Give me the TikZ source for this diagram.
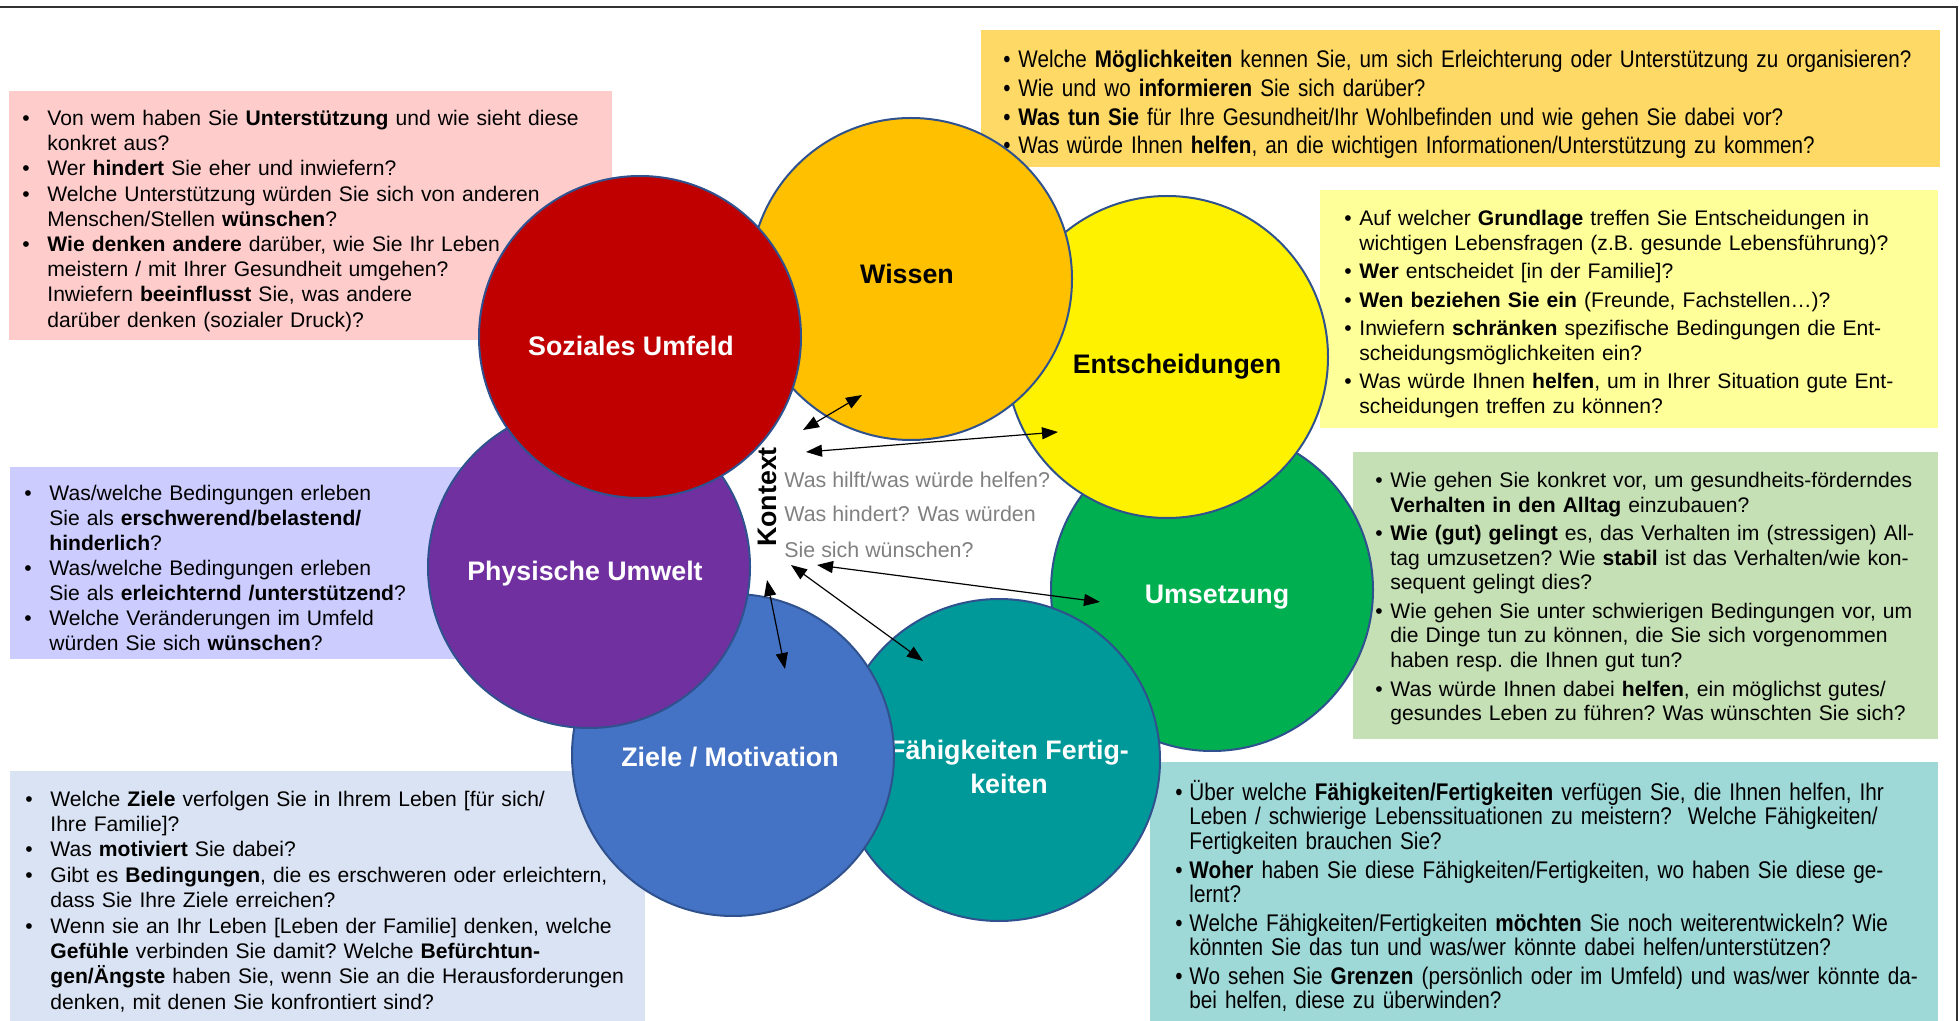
\documentclass[tikz,border=0pt]{standalone}
\usepackage{fontspec}
\setmainfont{Liberation Sans}
\newfontfamily\narrowsf[FakeStretch=0.86]{Liberation Sans}
\usepackage{tikz}
\usetikzlibrary{arrows.meta}

\definecolor{boxsoz}{HTML}{FFCCCC}
\definecolor{boxwis}{HTML}{FFD966}
\definecolor{boxent}{HTML}{FFFF99}
\definecolor{boxums}{HTML}{C5E0B4}
\definecolor{boxphy}{HTML}{CCCCFF}
\definecolor{boxzie}{HTML}{DAE3F3}
\definecolor{boxfae}{HTML}{9ED9D7}
\definecolor{csoz}{HTML}{C00000}
\definecolor{cwis}{HTML}{FFC000}
\definecolor{cent}{HTML}{FFF200}
\definecolor{cums}{HTML}{00B050}
\definecolor{cphy}{HTML}{7030A0}
\definecolor{czie}{HTML}{4472C4}
\definecolor{cfae}{HTML}{009999}
\definecolor{ringblue}{HTML}{2F528F}
\definecolor{ctxgray}{HTML}{808080}

\newlength{\bulind}
\newcommand{\qsetup}[2]{\setlength{\bulind}{#1}\setlength{\parskip}{#2}\rightskip=-20pt plus 1fil\frenchspacing}
\newcommand{\qitem}{\par\noindent\hangindent=\bulind\hangafter=1\makebox[\bulind][l]{\textbullet}}
\newcommand{\qend}[1]{\par\vspace{#1}\nointerlineskip\hbox{}}

\begin{document}
\begin{tikzpicture}[x=0.5pt,y=-0.5pt,
  qbox/.style={anchor=north west,inner ysep=0pt,align=left},
  ring/.style={circle,draw=ringblue,line width=1pt,minimum size=161pt,inner sep=0pt},
  ringtext/.style={align=center,inner sep=0pt,font=\fontsize{13.4}{17}\selectfont\bfseries},
  both/.style={{Triangle[length=8pt,width=6pt]}-{Triangle[length=8pt,width=6pt]},line width=0.6pt}]
  \useasboundingbox (0,0) rectangle (1960,1021);
  \draw[line width=1pt,black!80] (0,7) -- (1957,7) -- (1957,1021);

  \node[qbox,fill=boxsoz,minimum width=301.5pt,minimum height=124.5pt,text width=288.5pt,inner xsep=6.5pt,font=\fontsize{10.55}{12.6}\selectfont] (qsoz) at (9,91) {\qsetup{12.5pt}{0pt}%
    \qitem Von wem haben Sie \textbf{Unterstützung} und wie sieht diese\newline konkret aus?
    \qitem Wer \textbf{hindert} Sie eher und inwiefern?
    \qitem Welche Unterstützung würden Sie sich von anderen\newline Menschen/Stellen \textbf{wünschen}?
    \qitem \textbf{Wie denken andere} darüber, wie Sie Ihr Leben\newline meistern / mit Ihrer Gesundheit umgehen?\newline Inwiefern \textbf{beeinflusst} Sie, was andere\newline darüber denken (sozialer Druck)?\par};
  \node[qbox,fill=boxwis,minimum width=479.5pt,minimum height=68.5pt,text width=457.5pt,inner xsep=11pt,font=\narrowsf\fontsize{12}{14.3}\selectfont] (qwis) at (981,30) {\qsetup{7.5pt}{0pt}%
    \qitem Welche \textbf{Möglichkeiten} kennen Sie, um sich Erleichterung oder Unterstützung zu organisieren?
    \qitem Wie und wo \textbf{informieren} Sie sich darüber?
    \qitem \textbf{Was tun Sie} für Ihre Gesundheit/Ihr Wohlbefinden und wie gehen Sie dabei vor?
    \qitem Was würde Ihnen \textbf{helfen}, an die wichtigen Informationen/Unterstützung zu kommen?\par};
  \node[qbox,fill=boxent,minimum width=309pt,minimum height=119pt,text width=285pt,inner xsep=12pt,font=\fontsize{10.55}{12.3}\selectfont] (qent) at (1320,190) {\qsetup{7.5pt}{1.9pt}%
    \qitem Auf welcher \textbf{Grundlage} treffen Sie Entscheidungen in\newline wichtigen Lebensfragen (z.B. gesunde Lebensführung)?
    \qitem \textbf{Wer} entscheidet [in der Familie]?
    \qitem \textbf{Wen beziehen Sie ein} (Freunde, Fachstellen…)?
    \qitem Inwiefern \textbf{schränken} spezifische Bedingungen die Ent-\newline scheidungsmöglichkeiten ein?
    \qitem Was würde Ihnen \textbf{helfen}, um in Ihrer Situation gute Ent-\newline scheidungen treffen zu können?\qend{2pt}};
  \node[qbox,fill=boxums,minimum width=292.5pt,minimum height=143.5pt,text width=270.5pt,inner xsep=11pt,font=\fontsize{10.55}{12.2}\selectfont] (qums) at (1353,452) {\qsetup{7.5pt}{2.2pt}%
    \qitem Wie gehen Sie konkret vor, um gesundheits-förderndes\newline \textbf{Verhalten in den Alltag} einzubauen?
    \qitem \textbf{Wie (gut) gelingt} es, das Verhalten im (stressigen) All-\newline tag umzusetzen? Wie \textbf{stabil} ist das Verhalten/wie kon-\newline sequent gelingt dies?
    \qitem Wie gehen Sie unter schwierigen Bedingungen vor, um\newline die Dinge tun zu können, die Sie sich vorgenommen\newline haben resp. die Ihnen gut tun?
    \qitem Was würde Ihnen dabei \textbf{helfen}, ein möglichst gutes/\newline gesundes Leben zu führen? Was wünschten Sie sich?\qend{4pt}};
  \node[qbox,fill=boxphy,minimum width=230pt,minimum height=96pt,text width=216pt,inner xsep=7pt,font=\fontsize{10.55}{12.5}\selectfont] (qphy) at (10,467) {\qsetup{12.5pt}{0pt}%
    \qitem Was/welche Bedingungen erleben\newline Sie als \textbf{erschwerend/belastend/}\newline \textbf{hinderlich}?
    \qitem Was/welche Bedingungen erleben\newline Sie als \textbf{erleichternd /unterstützend}?
    \qitem Welche Veränderungen im Umfeld\newline würden Sie sich \textbf{wünschen}?\par};
  \node[qbox,fill=boxzie,minimum width=317.5pt,minimum height=125pt,text width=302.5pt,inner xsep=7.5pt,font=\fontsize{10.55}{12.7}\selectfont] (qzie) at (10,771) {\qsetup{12.5pt}{0pt}%
    \qitem Welche \textbf{Ziele} verfolgen Sie in Ihrem Leben [für sich/\newline Ihre Familie]?
    \qitem Was \textbf{motiviert} Sie dabei?
    \qitem Gibt es \textbf{Bedingungen}, die es erschweren oder erleichtern,\newline dass Sie Ihre Ziele erreichen?
    \qitem Wenn sie an Ihr Leben [Leben der Familie] denken, welche\newline \textbf{Gefühle} verbinden Sie damit? Welche \textbf{Befürchtun-}\newline \textbf{gen/Ängste} haben Sie, wenn Sie an die Herausforderungen\newline denken, mit denen Sie konfrontiert sind?\par};
  \node[qbox,fill=boxfae,minimum width=394pt,minimum height=129.5pt,text width=369pt,inner xsep=12.5pt,font=\narrowsf\fontsize{12.05}{12.2}\selectfont] (qfae) at (1150,762) {\qsetup{7pt}{2.2pt}%
    \qitem Über welche \textbf{Fähigkeiten/Fertigkeiten} verfügen Sie, die Ihnen helfen, Ihr\newline Leben / schwierige Lebenssituationen zu meistern?\ \ Welche Fähigkeiten/\newline Fertigkeiten brauchen Sie?
    \qitem \textbf{Woher} haben Sie diese Fähigkeiten/Fertigkeiten, wo haben Sie diese ge-\newline lernt?
    \qitem Welche Fähigkeiten/Fertigkeiten \textbf{möchten} Sie noch weiterentwickeln? Wie\newline könnten Sie das tun und was/wer könnte dabei helfen/unterstützen?
    \qitem Wo sehen Sie \textbf{Grenzen} (persönlich oder im Umfeld) und was/wer könnte da-\newline bei helfen, diese zu überwinden?\par};

  \node[ring,fill=cums] (ums) at (1212,590) {};
  \node[ringtext,text=white] (umslabel) at (1217,597) {Umsetzung};
  \node[ring,fill=cent] (ent) at (1167,357) {};
  \node[ringtext] (entlabel) at (1177,367) {Entscheidungen};
  \node[ring,fill=cfae] (fae) at (999,760) {};
  \node[ringtext,text=white] (faelabel) at (1009,767) {Fähigkeiten Fertig-\\keiten};
  \node[ring,fill=cwis] (wis) at (911,279) {};
  \node[ringtext] (wislabel) at (907,274) {Wissen};
  \node[ring,fill=czie] (zie) at (733,755) {};
  \node[ringtext,text=white] (zielabel) at (730,757) {Ziele / Motivation};
  \node[ring,fill=cphy] (phy) at (589,567) {};
  \node[ringtext,text=white] (phylabel) at (585,574) {Physische Umwelt};
  \node[ring,fill=csoz] (soz) at (640,337) {};
  \node[ringtext,text=white] (sozlabel) at (631,346) {Soziales Umfeld};

  \node[rotate=90,inner sep=0pt,font=\fontsize{13.4}{16}\selectfont\bfseries] (kontext) at (767,497) {Kontext};
  \node[anchor=base west,align=left,inner sep=0pt,text=ctxgray,font=\fontsize{10.7}{17.5}\selectfont] (hilfe) at (784,557) {Was hilft/was würde helfen?\\Was hindert? Was würden\\Sie sich wünschen?};

  \coordinate (k1) at (803,430);
  \coordinate (w1) at (862,395);
  \coordinate (k2) at (806,452);
  \coordinate (e2) at (1058,432);
  \coordinate (k3) at (817,565);
  \coordinate (u3) at (1100,602);
  \coordinate (k4) at (791,565);
  \coordinate (f4) at (923,661);
  \coordinate (k5) at (767,580);
  \coordinate (z5) at (785,669);
  \draw[both] (k1) -- (w1);
  \draw[both] (k2) -- (e2);
  \draw[both] (k3) -- (u3);
  \draw[both] (k4) -- (f4);
  \draw[both] (k5) -- (z5);
\end{tikzpicture}
\end{document}
